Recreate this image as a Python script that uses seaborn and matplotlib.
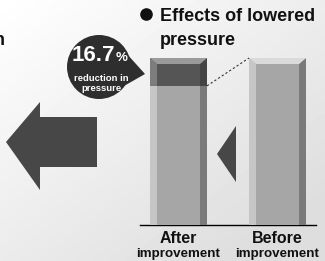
import numpy as np
import pandas as pd
import matplotlib
matplotlib.use("Agg")
import matplotlib.pyplot as plt
import seaborn as sns
from matplotlib.patches import Polygon, Circle
from matplotlib.font_manager import fontManager

# ---- data ----
categories = ["After", "Before"]
sublabels = ["improvement", "improvement"]
pressure = [83.3, 100.0]          # relative pressure (Before = 100)
reduction_pct = 16.7
title_lines = ["Effects of lowered", "pressure"]
bubble_lines = ["reduction in", "pressure"]

sns.set_theme(style="white")
names = {f.name for f in fontManager.ttflist}
narrow = "Liberation Sans Narrow" if "Liberation Sans Narrow" in names else "Liberation Sans"
plt.rcParams["font.family"] = ["Liberation Sans", "DejaVu Sans"]

W, H = 325, 261
fig = plt.figure(figsize=(W / 100, H / 100), dpi=100)

# ---- background / decoration axes in pixel coordinates ----
bg = fig.add_axes([0, 0, 1, 1])
bg.set_xlim(0, W)
bg.set_ylim(H, 0)
bg.axis("off")
yy, xx = np.mgrid[0:1:60j, 0:1:60j]
grad = np.clip(0.55 * xx + 0.6 * yy, 0, 1)
bg.imshow(1.0 - 0.13 * grad, cmap="gray", vmin=0, vmax=1, extent=[0, W, H, 0],
          aspect="auto", interpolation="bilinear", zorder=0)

# big left arrow
arrow = [(6, 142), (40, 102), (40, 117), (97, 117), (97, 167), (40, 167), (40, 190)]
bg.add_patch(Polygon(arrow, closed=True, fc="#474747", ec="none", zorder=2))
# small triangle between bars
bg.add_patch(Polygon([(217, 154), (236, 126), (236, 182)], closed=True,
                     fc="#474747", ec="none", zorder=2))
# speech bubble
bg.add_patch(Circle((99, 67), 32, fc="#2e2e2e", ec="none", zorder=3))
bg.add_patch(Polygon([(118, 44), (145, 74), (124, 86)], closed=True,
                     fc="#2e2e2e", ec="none", zorder=3))
bg.text(115, 61, f"{reduction_pct}", color="white", fontsize=16, fontweight="bold",
        ha="right", va="baseline", family=[narrow, "DejaVu Sans"], zorder=4)
bg.text(115.5, 61, "%", color="white", fontsize=9.5, fontweight="bold",
        ha="left", va="baseline", family=[narrow, "DejaVu Sans"], zorder=4)
bg.text(101, 81, bubble_lines[0], color="white", fontsize=6.8, fontweight="bold",
        ha="center", va="baseline", family=[narrow, "DejaVu Sans"], zorder=4)
bg.text(101, 91, bubble_lines[1], color="white", fontsize=6.8, fontweight="bold",
        ha="center", va="baseline", family=[narrow, "DejaVu Sans"], zorder=4)

# title with bullet
bg.add_patch(Circle((146.5, 14.5), 6.3, fc="#111111", ec="none", zorder=4))
bg.text(160, 21, title_lines[0], fontsize=13, fontweight="bold", color="#111111",
        ha="left", va="baseline", zorder=4)
bg.text(160, 45, title_lines[1], fontsize=13, fontweight="bold", color="#111111",
        ha="left", va="baseline", zorder=4)
# clipped word fragment at left edge (as in the reference)
bg.text(4.5, 45, "n", fontsize=13, fontweight="bold", color="#111111",
        ha="right", va="baseline", zorder=4)

# ---- bar axes ----
left, right, base, top = 140, 316, 225, 58
ax = fig.add_axes([left / W, 1 - base / H, (right - left) / W, (base - top) / H])
ax.patch.set_alpha(0)
df_total = pd.DataFrame({"cat": categories, "val": [max(pressure)] * len(categories)})
df = pd.DataFrame({"cat": categories, "val": pressure})
width = 57 / 99
sns.barplot(data=df_total, x="cat", y="val", hue="cat", palette=["#555555", "#a6a6a6"],
            width=width, legend=False, ax=ax, saturation=1, zorder=2, linewidth=0)
sns.barplot(data=df, x="cat", y="val", color="#a6a6a6", width=width, ax=ax,
            saturation=1, zorder=3, linewidth=0)
half = 38.5 / 99
ax.set_xlim(-half, len(categories) - 1 + half)
ax.set_ylim(0, 100)
for s in ["top", "left", "right"]:
    ax.spines[s].set_visible(False)
ax.spines["bottom"].set_color("black")
ax.spines["bottom"].set_linewidth(1.0)
ax.set_xticks([])
ax.set_yticks([])
ax.set_xlabel("")
ax.set_ylabel("")

# bevels derived from the bar patches
sx = 7 / 99
ty = 6 / 167 * 100
patches = ax.patches
n = len(categories)
totals, bases = patches[:n], patches[n:]
for i in range(n):
    x0 = totals[i].get_x()
    w = totals[i].get_width()
    htot = totals[i].get_height()
    hb = bases[i].get_height()
    lim = min(hb, htot - ty)
    ax.add_patch(Polygon([(x0, 0), (x0 + sx, 0), (x0 + sx, lim), (x0, lim)],
                         fc="#c6c6c6", ec="none", zorder=4))
    ax.add_patch(Polygon([(x0 + w - sx, 0), (x0 + w, 0), (x0 + w, lim), (x0 + w - sx, lim)],
                         fc="#7a7a7a", ec="none", zorder=4))
    if htot > hb + 0.01:
        ax.add_patch(Polygon([(x0, hb), (x0 + sx, hb), (x0 + sx, htot - ty), (x0, htot)],
                             fc="#7d7d7d", ec="none", zorder=4))
        ax.add_patch(Polygon([(x0 + w - sx, hb), (x0 + w, hb), (x0 + w, htot), (x0 + w - sx, htot - ty)],
                             fc="#444444", ec="none", zorder=4))
        topc = "#9a9a9a"
    else:
        ax.add_patch(Polygon([(x0 + w - sx, htot - ty), (x0 + w, htot), (x0 + w, htot - ty)],
                             fc="#7a7a7a", ec="none", zorder=4))
        ax.add_patch(Polygon([(x0, htot - ty), (x0 + sx, htot - ty), (x0, htot)],
                             fc="#c6c6c6", ec="none", zorder=4))
        topc = "#dadada"
    ax.add_patch(Polygon([(x0, htot), (x0 + w, htot), (x0 + w - sx, htot - ty), (x0 + sx, htot - ty)],
                         fc=topc, ec="none", zorder=5, clip_on=False))

# dotted connector: top of After's remaining pressure -> top of Before bar
a, b = bases[0], totals[1]
ax.plot([a.get_x() + a.get_width(), b.get_x()], [a.get_height(), b.get_height()],
        ls=(0, (2, 2)), color="#333333", lw=0.8, zorder=6, clip_on=False)

# category labels
trans = ax.get_xaxis_transform()
for i, (c, s) in enumerate(zip(categories, sublabels)):
    ax.text(i, -18 / 167, c, transform=trans, ha="center", va="baseline",
            fontsize=11.5, fontweight="bold", color="#111111", clip_on=False)
    ax.text(i, -32 / 167, s, transform=trans, ha="center", va="baseline",
            fontsize=9.6, fontweight="bold", color="#111111", clip_on=False,
            family=[narrow, "DejaVu Sans"])

fig.savefig("out.png", dpi=100)
